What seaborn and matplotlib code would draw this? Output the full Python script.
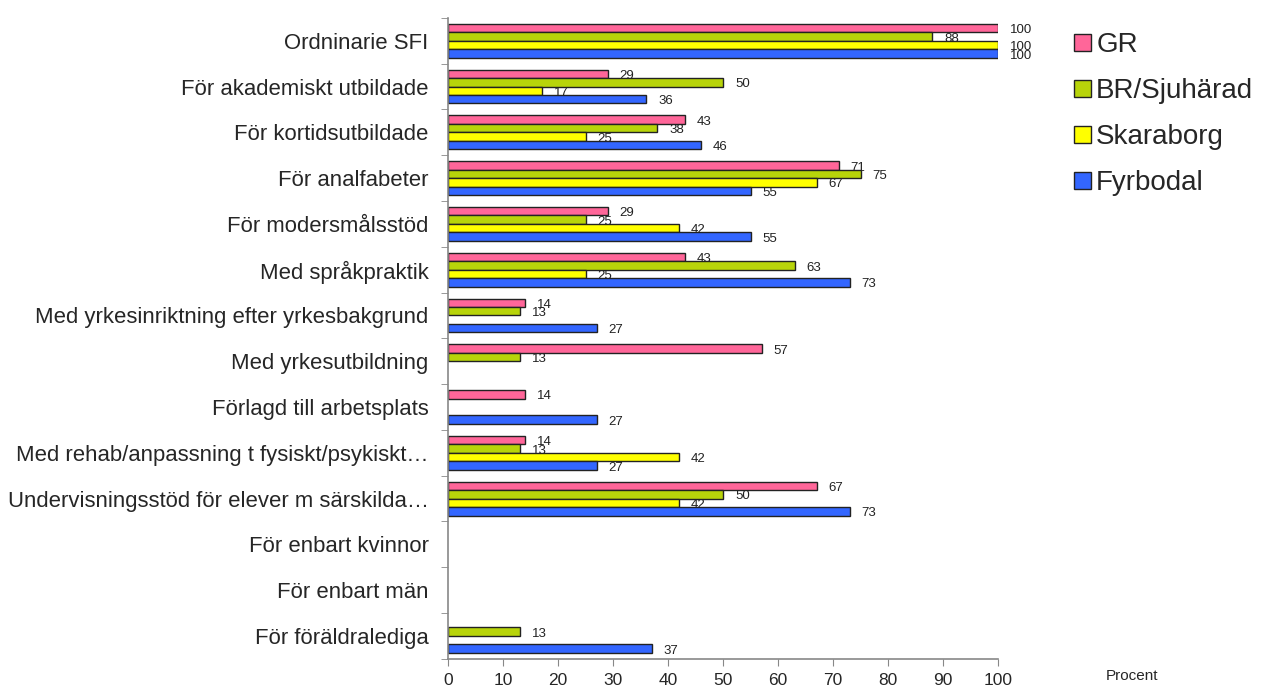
import matplotlib
matplotlib.use("Agg")
import matplotlib.pyplot as plt
import seaborn as sns
import pandas as pd
import numpy as np

# Data (None = no bar)
categories = [
    "Ordninarie SFI",
    "För akademiskt utbildade",
    "För kortidsutbildade",
    "För analfabeter",
    "För modersmålsstöd",
    "Med språkpraktik",
    "Med yrkesinriktning efter yrkesbakgrund",
    "Med yrkesutbildning",
    "Förlagd till arbetsplats",
    "Med rehab/anpassning t fysiskt/psykiskt…",
    "Undervisningsstöd för elever m särskilda…",
    "För enbart kvinnor",
    "För enbart män",
    "För föräldralediga",
]
series = ["GR", "BR/Sjuhärad", "Skaraborg", "Fyrbodal"]
gr = [100, 29, 43, 71, 29, 43, 14, 57, 14, 14, 67, None, None, None]
br = [88, 50, 38, 75, 25, 63, 13, 13, None, 13, 50, None, None, 13]
skaraborg = [100, 17, 25, 67, 42, 25, None, None, None, 42, 42, None, None, None]
fyrbodal = [100, 36, 46, 55, 55, 73, 27, None, 27, 27, 73, None, None, 37]
colors = ["#FF6699", "#B8D40A", "#FFFF00", "#3366FF"]

rows = []
for name, vals in zip(series, [gr, br, skaraborg, fyrbodal]):
    for cat, v in zip(categories, vals):
        if v is not None:
            rows.append({"Kategori": cat, "Region": name, "Procent": v})
df = pd.DataFrame(rows)

sns.set_style("white")
plt.rcParams["font.family"] = ["Liberation Sans", "DejaVu Sans"]

fig = plt.figure(figsize=(12.67, 6.87), dpi=100)
ax = fig.add_axes([0.3536, 0.041, 0.4341, 0.933])

sns.barplot(data=df, x="Procent", y="Kategori", hue="Region",
            order=categories, hue_order=series, palette=colors,
            saturation=1, orient="h", width=0.74, errorbar=None, dodge=True,
            edgecolor="#222222", linewidth=1.0, ax=ax)

for cont in ax.containers:
    for bar in cont:
        w = bar.get_width()
        if np.isnan(w):
            continue
        ax.text(w + 2.2, bar.get_y() + bar.get_height() * 0.75, f"{w:.0f}",
                va="center", ha="left", fontsize=9.5, color="#222222")

ax.set_xlim(0, 100)
ax.set_ylim(len(categories) - 0.5, -0.5)
ax.set_xticks(range(0, 101, 10))
ax.set_xlabel("")
ax.set_ylabel("")
ax.tick_params(axis="x", labelsize=12.5, length=5, color="#888888",
               direction="out", bottom=True, pad=5)
ax.tick_params(axis="y", which="major", labelsize=15.9, length=0, pad=14)
ax.set_yticks(np.arange(-0.5, len(categories)), minor=True)
ax.tick_params(axis="y", which="minor", length=5, color="#888888",
               direction="out", left=True)

for s in ["top", "right"]:
    ax.spines[s].set_visible(False)
for s in ["left", "bottom"]:
    ax.spines[s].set_color("#888888")
    ax.spines[s].set_linewidth(1.2)

fig.text(0.873, 0.016, "Procent", fontsize=11, ha="left", va="center")

handles, labels = ax.get_legend_handles_labels()
ax.legend(handles, labels, loc="upper left", bbox_to_anchor=(1.118, 0.995),
          frameon=False, fontsize=20, handlelength=0.6, handleheight=0.6,
          handletextpad=0.2, labelspacing=0.72, borderaxespad=0)

fig.savefig("out.png", dpi=100)
